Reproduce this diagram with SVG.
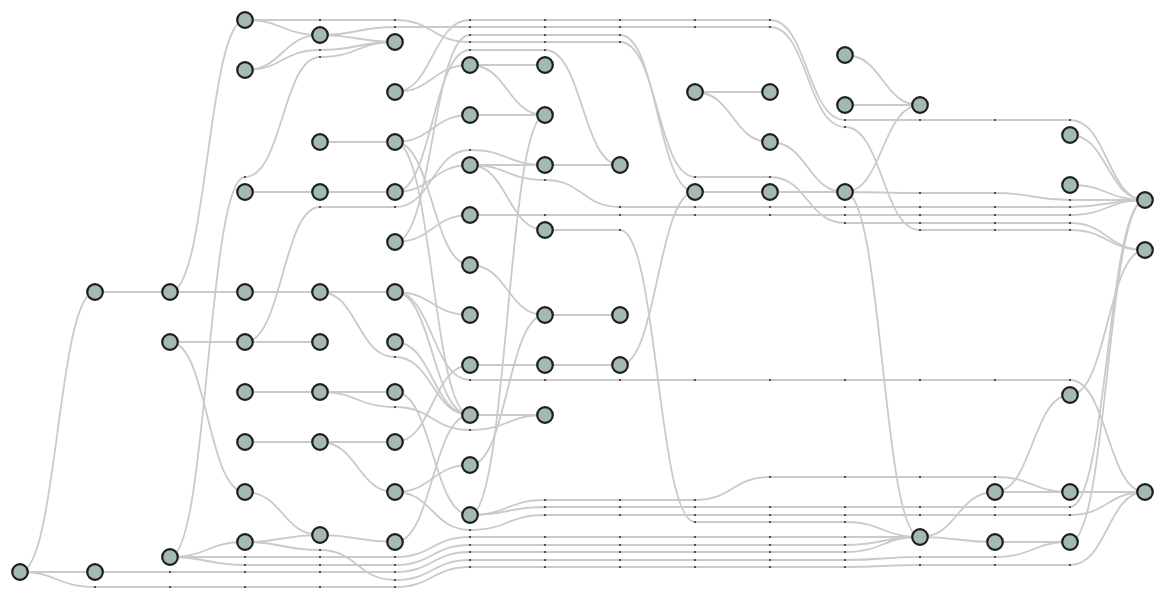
<svg xmlns="http://www.w3.org/2000/svg" width="1165" height="607" viewBox="0 0 1165 607">
<style>
.e{fill:none;stroke:#cacaca;stroke-width:1.8}
.n circle{fill:#a3b9b4;stroke:#1e1e1e;stroke-width:2.2}
.d circle{fill:#333}
</style>
<rect width="1165" height="607" fill="#fff"/>
<g id="connectors">
<path class="e" d="M20,572 C57.5,572 57.5,292 95,292"/>
<path class="e" d="M20,572 H95"/>
<path class="e" d="M20,572 C57.5,572 57.5,587 95,587 H395 C432.5,587 432.5,567 470,567 H845 C882.5,567 882.5,565 920,565 H1070 C1107.5,565 1107.5,492 1145,492"/>
<path class="e" d="M95,292 H170"/>
<path class="e" d="M95,572 H395 C432.5,572 432.5,552 470,552 H845 C882.5,552 882.5,537 920,537"/>
<path class="e" d="M170,292 C207.5,292 207.5,20 245,20"/>
<path class="e" d="M170,292 H245"/>
<path class="e" d="M170,342 H245"/>
<path class="e" d="M170,342 C207.5,342 207.5,492 245,492"/>
<path class="e" d="M170,557 C207.5,557 207.5,542 245,542"/>
<path class="e" d="M170,557 C207.5,557 207.5,177 245,177 C282.5,177 282.5,57 320,57 C357.5,57 357.5,42 395,42"/>
<path class="e" d="M170,557 H395 C432.5,557 432.5,537 470,537 H920"/>
<path class="e" d="M170,557 C207.5,557 207.5,565 245,565 H395 C432.5,565 432.5,545 470,545 H845 C882.5,545 882.5,537 920,537"/>
<path class="e" d="M245,20 C282.5,20 282.5,35 320,35"/>
<path class="e" d="M245,20 H395 C432.5,20 432.5,42 470,42 H620 C657.5,42 657.5,177 695,177 H770 C807.5,177 807.5,223 845,223 H1070 C1107.5,223 1107.5,250 1145,250"/>
<path class="e" d="M245,70 C282.5,70 282.5,35 320,35"/>
<path class="e" d="M245,70 C282.5,70 282.5,50 320,50 C357.5,50 357.5,42 395,42"/>
<path class="e" d="M245,192 H320"/>
<path class="e" d="M245,292 H320"/>
<path class="e" d="M245,342 H320"/>
<path class="e" d="M245,342 C282.5,342 282.5,207 320,207 H395 C432.5,207 432.5,150 470,150 C507.5,150 507.5,165 545,165"/>
<path class="e" d="M245,392 H320"/>
<path class="e" d="M245,442 H320"/>
<path class="e" d="M245,492 C282.5,492 282.5,535 320,535"/>
<path class="e" d="M245,542 C282.5,542 282.5,535 320,535"/>
<path class="e" d="M245,542 C282.5,542 282.5,550 320,550 C357.5,550 357.5,580 395,580 C432.5,580 432.5,560 470,560 H845 C882.5,560 882.5,557 920,557 H995 C1032.5,557 1032.5,542 1070,542"/>
<path class="e" d="M320,35 C357.5,35 357.5,42 395,42"/>
<path class="e" d="M320,35 C357.5,35 357.5,27 395,27 H770 C807.5,27 807.5,127 845,127 C882.5,127 882.5,230 920,230 H1070 C1107.5,230 1107.5,250 1145,250"/>
<path class="e" d="M320,142 H395"/>
<path class="e" d="M320,192 H395"/>
<path class="e" d="M320,292 H395"/>
<path class="e" d="M320,292 C357.5,292 357.5,357 395,357 C432.5,357 432.5,415 470,415"/>
<path class="e" d="M320,392 H395"/>
<path class="e" d="M320,392 C357.5,392 357.5,407 395,407 C432.5,407 432.5,430 470,430 C507.5,430 507.5,415 545,415"/>
<path class="e" d="M320,442 H395"/>
<path class="e" d="M320,442 C357.5,442 357.5,492 395,492"/>
<path class="e" d="M320,535 C357.5,535 357.5,542 395,542"/>
<path class="e" d="M395,92 C432.5,92 432.5,65 470,65"/>
<path class="e" d="M395,92 C432.5,92 432.5,20 470,20 H770 C807.5,20 807.5,120 845,120 H1070 C1107.5,120 1107.5,200 1145,200"/>
<path class="e" d="M395,142 C432.5,142 432.5,115 470,115"/>
<path class="e" d="M395,142 C432.5,142 432.5,265 470,265"/>
<path class="e" d="M395,142 C432.5,142 432.5,415 470,415"/>
<path class="e" d="M395,192 C432.5,192 432.5,165 470,165"/>
<path class="e" d="M395,192 C432.5,192 432.5,50 470,50 H545 C582.5,50 582.5,165 620,165"/>
<path class="e" d="M395,242 C432.5,242 432.5,215 470,215"/>
<path class="e" d="M395,242 C432.5,242 432.5,35 470,35 H620 C657.5,35 657.5,192 695,192"/>
<path class="e" d="M395,292 C432.5,292 432.5,315 470,315"/>
<path class="e" d="M395,292 C432.5,292 432.5,415 470,415"/>
<path class="e" d="M395,292 C432.5,292 432.5,380 470,380 H1070 C1107.5,380 1107.5,492 1145,492"/>
<path class="e" d="M395,342 C432.5,342 432.5,415 470,415"/>
<path class="e" d="M395,392 C432.5,392 432.5,515 470,515"/>
<path class="e" d="M395,442 C432.5,442 432.5,365 470,365"/>
<path class="e" d="M395,492 C432.5,492 432.5,465 470,465"/>
<path class="e" d="M395,492 C432.5,492 432.5,530 470,530 C507.5,530 507.5,515 545,515 H1070 C1107.5,515 1107.5,492 1145,492"/>
<path class="e" d="M395,542 C432.5,542 432.5,415 470,415"/>
<path class="e" d="M470,65 H545"/>
<path class="e" d="M470,65 C507.5,65 507.5,115 545,115"/>
<path class="e" d="M470,115 H545"/>
<path class="e" d="M470,165 H545"/>
<path class="e" d="M470,165 C507.5,165 507.5,230 545,230"/>
<path class="e" d="M470,165 C507.5,165 507.5,180 545,180 C582.5,180 582.5,207 620,207 H1070 C1107.5,207 1107.5,200 1145,200"/>
<path class="e" d="M470,215 H1070 C1107.5,215 1107.5,200 1145,200"/>
<path class="e" d="M470,265 C507.5,265 507.5,315 545,315"/>
<path class="e" d="M470,365 H545"/>
<path class="e" d="M470,415 H545"/>
<path class="e" d="M470,465 C507.5,465 507.5,315 545,315"/>
<path class="e" d="M470,515 C507.5,515 507.5,115 545,115"/>
<path class="e" d="M470,515 C507.5,515 507.5,500 545,500 H695 C732.5,500 732.5,477 770,477 H995 C1032.5,477 1032.5,492 1070,492"/>
<path class="e" d="M470,515 C507.5,515 507.5,507 545,507 H1070 C1107.5,507 1107.5,200 1145,200"/>
<path class="e" d="M545,165 H620"/>
<path class="e" d="M545,230 H620 C657.5,230 657.5,522 695,522 H845 C882.5,522 882.5,537 920,537"/>
<path class="e" d="M545,315 H620"/>
<path class="e" d="M545,365 H620"/>
<path class="e" d="M620,365 C657.5,365 657.5,192 695,192"/>
<path class="e" d="M695,92 H770"/>
<path class="e" d="M695,92 C732.5,92 732.5,142 770,142"/>
<path class="e" d="M695,192 H770"/>
<path class="e" d="M770,142 C807.5,142 807.5,192 845,192"/>
<path class="e" d="M770,192 H845"/>
<path class="e" d="M845,55 C882.5,55 882.5,105 920,105"/>
<path class="e" d="M845,105 H920"/>
<path class="e" d="M845,192 C882.5,192 882.5,105 920,105"/>
<path class="e" d="M845,192 C882.5,192 882.5,193 920,193 H995 C1032.5,193 1032.5,200 1070,200 H1145"/>
<path class="e" d="M845,192 C882.5,192 882.5,537 920,537"/>
<path class="e" d="M920,537 C957.5,537 957.5,492 995,492"/>
<path class="e" d="M920,537 C957.5,537 957.5,542 995,542"/>
<path class="e" d="M995,492 H1070"/>
<path class="e" d="M995,492 C1032.5,492 1032.5,395 1070,395"/>
<path class="e" d="M995,542 H1070"/>
<path class="e" d="M1070,135 C1107.5,135 1107.5,200 1145,200"/>
<path class="e" d="M1070,185 C1107.5,185 1107.5,200 1145,200"/>
<path class="e" d="M1070,395 C1107.5,395 1107.5,250 1145,250"/>
<path class="e" d="M1070,492 H1145"/>
<path class="e" d="M1070,542 C1107.5,542 1107.5,200 1145,200"/>
</g>
<g id="bends" class="d">
<circle cx="95" cy="587" r="1.1"/><circle cx="170" cy="587" r="1.1"/><circle cx="245" cy="587" r="1.1"/><circle cx="320" cy="587" r="1.1"/><circle cx="395" cy="587" r="1.1"/><circle cx="470" cy="567" r="1.1"/><circle cx="545" cy="567" r="1.1"/><circle cx="620" cy="567" r="1.1"/><circle cx="695" cy="567" r="1.1"/><circle cx="770" cy="567" r="1.1"/><circle cx="845" cy="567" r="1.1"/><circle cx="920" cy="565" r="1.1"/><circle cx="995" cy="565" r="1.1"/><circle cx="1070" cy="565" r="1.1"/>
<circle cx="170" cy="572" r="1.1"/><circle cx="245" cy="572" r="1.1"/><circle cx="320" cy="572" r="1.1"/><circle cx="395" cy="572" r="1.1"/><circle cx="470" cy="552" r="1.1"/><circle cx="545" cy="552" r="1.1"/><circle cx="620" cy="552" r="1.1"/><circle cx="695" cy="552" r="1.1"/><circle cx="770" cy="552" r="1.1"/><circle cx="845" cy="552" r="1.1"/>
<circle cx="245" cy="177" r="1.1"/><circle cx="320" cy="57" r="1.1"/>
<circle cx="245" cy="557" r="1.1"/><circle cx="320" cy="557" r="1.1"/><circle cx="395" cy="557" r="1.1"/><circle cx="470" cy="537" r="1.1"/><circle cx="545" cy="537" r="1.1"/><circle cx="620" cy="537" r="1.1"/><circle cx="695" cy="537" r="1.1"/><circle cx="770" cy="537" r="1.1"/><circle cx="845" cy="537" r="1.1"/>
<circle cx="245" cy="565" r="1.1"/><circle cx="320" cy="565" r="1.1"/><circle cx="395" cy="565" r="1.1"/><circle cx="470" cy="545" r="1.1"/><circle cx="545" cy="545" r="1.1"/><circle cx="620" cy="545" r="1.1"/><circle cx="695" cy="545" r="1.1"/><circle cx="770" cy="545" r="1.1"/><circle cx="845" cy="545" r="1.1"/>
<circle cx="320" cy="20" r="1.1"/><circle cx="395" cy="20" r="1.1"/><circle cx="470" cy="42" r="1.1"/><circle cx="545" cy="42" r="1.1"/><circle cx="620" cy="42" r="1.1"/><circle cx="695" cy="177" r="1.1"/><circle cx="770" cy="177" r="1.1"/><circle cx="845" cy="223" r="1.1"/><circle cx="920" cy="223" r="1.1"/><circle cx="995" cy="223" r="1.1"/><circle cx="1070" cy="223" r="1.1"/>
<circle cx="320" cy="50" r="1.1"/>
<circle cx="320" cy="207" r="1.1"/><circle cx="395" cy="207" r="1.1"/><circle cx="470" cy="150" r="1.1"/>
<circle cx="320" cy="550" r="1.1"/><circle cx="395" cy="580" r="1.1"/><circle cx="470" cy="560" r="1.1"/><circle cx="545" cy="560" r="1.1"/><circle cx="620" cy="560" r="1.1"/><circle cx="695" cy="560" r="1.1"/><circle cx="770" cy="560" r="1.1"/><circle cx="845" cy="560" r="1.1"/><circle cx="920" cy="557" r="1.1"/><circle cx="995" cy="557" r="1.1"/>
<circle cx="395" cy="27" r="1.1"/><circle cx="470" cy="27" r="1.1"/><circle cx="545" cy="27" r="1.1"/><circle cx="620" cy="27" r="1.1"/><circle cx="695" cy="27" r="1.1"/><circle cx="770" cy="27" r="1.1"/><circle cx="845" cy="127" r="1.1"/><circle cx="920" cy="230" r="1.1"/><circle cx="995" cy="230" r="1.1"/><circle cx="1070" cy="230" r="1.1"/>
<circle cx="395" cy="357" r="1.1"/><circle cx="395" cy="407" r="1.1"/><circle cx="470" cy="430" r="1.1"/>
<circle cx="470" cy="20" r="1.1"/><circle cx="545" cy="20" r="1.1"/><circle cx="620" cy="20" r="1.1"/><circle cx="695" cy="20" r="1.1"/><circle cx="770" cy="20" r="1.1"/><circle cx="845" cy="120" r="1.1"/><circle cx="920" cy="120" r="1.1"/><circle cx="995" cy="120" r="1.1"/><circle cx="1070" cy="120" r="1.1"/>
<circle cx="470" cy="50" r="1.1"/><circle cx="545" cy="50" r="1.1"/>
<circle cx="470" cy="35" r="1.1"/><circle cx="545" cy="35" r="1.1"/><circle cx="620" cy="35" r="1.1"/>
<circle cx="470" cy="380" r="1.1"/><circle cx="545" cy="380" r="1.1"/><circle cx="620" cy="380" r="1.1"/><circle cx="695" cy="380" r="1.1"/><circle cx="770" cy="380" r="1.1"/><circle cx="845" cy="380" r="1.1"/><circle cx="920" cy="380" r="1.1"/><circle cx="995" cy="380" r="1.1"/><circle cx="1070" cy="380" r="1.1"/>
<circle cx="470" cy="530" r="1.1"/><circle cx="545" cy="515" r="1.1"/><circle cx="620" cy="515" r="1.1"/><circle cx="695" cy="515" r="1.1"/><circle cx="770" cy="515" r="1.1"/><circle cx="845" cy="515" r="1.1"/><circle cx="920" cy="515" r="1.1"/><circle cx="995" cy="515" r="1.1"/><circle cx="1070" cy="515" r="1.1"/>
<circle cx="545" cy="180" r="1.1"/><circle cx="620" cy="207" r="1.1"/><circle cx="695" cy="207" r="1.1"/><circle cx="770" cy="207" r="1.1"/><circle cx="845" cy="207" r="1.1"/><circle cx="920" cy="207" r="1.1"/><circle cx="995" cy="207" r="1.1"/><circle cx="1070" cy="207" r="1.1"/>
<circle cx="545" cy="215" r="1.1"/><circle cx="620" cy="215" r="1.1"/><circle cx="695" cy="215" r="1.1"/><circle cx="770" cy="215" r="1.1"/><circle cx="845" cy="215" r="1.1"/><circle cx="920" cy="215" r="1.1"/><circle cx="995" cy="215" r="1.1"/><circle cx="1070" cy="215" r="1.1"/>
<circle cx="545" cy="500" r="1.1"/><circle cx="620" cy="500" r="1.1"/><circle cx="695" cy="500" r="1.1"/><circle cx="770" cy="477" r="1.1"/><circle cx="845" cy="477" r="1.1"/><circle cx="920" cy="477" r="1.1"/><circle cx="995" cy="477" r="1.1"/>
<circle cx="545" cy="507" r="1.1"/><circle cx="620" cy="507" r="1.1"/><circle cx="695" cy="507" r="1.1"/><circle cx="770" cy="507" r="1.1"/><circle cx="845" cy="507" r="1.1"/><circle cx="920" cy="507" r="1.1"/><circle cx="995" cy="507" r="1.1"/><circle cx="1070" cy="507" r="1.1"/>
<circle cx="620" cy="230" r="1.1"/><circle cx="695" cy="522" r="1.1"/><circle cx="770" cy="522" r="1.1"/><circle cx="845" cy="522" r="1.1"/>
<circle cx="920" cy="193" r="1.1"/><circle cx="995" cy="193" r="1.1"/><circle cx="1070" cy="200" r="1.1"/>
</g>
<g class="n">
<g id="A0"><circle cx="20" cy="572" r="7.8"/></g>
<g id="B0"><circle cx="95" cy="292" r="7.8"/></g>
<g id="B1"><circle cx="95" cy="572" r="7.8"/></g>
<g id="C0"><circle cx="170" cy="292" r="7.8"/></g>
<g id="C1"><circle cx="170" cy="342" r="7.8"/></g>
<g id="C2"><circle cx="170" cy="557" r="7.8"/></g>
<g id="D0"><circle cx="245" cy="20" r="7.8"/></g>
<g id="D1"><circle cx="245" cy="70" r="7.8"/></g>
<g id="D2"><circle cx="245" cy="192" r="7.8"/></g>
<g id="D3"><circle cx="245" cy="292" r="7.8"/></g>
<g id="D4"><circle cx="245" cy="342" r="7.8"/></g>
<g id="D5"><circle cx="245" cy="392" r="7.8"/></g>
<g id="D6"><circle cx="245" cy="442" r="7.8"/></g>
<g id="D7"><circle cx="245" cy="492" r="7.8"/></g>
<g id="D8"><circle cx="245" cy="542" r="7.8"/></g>
<g id="E0"><circle cx="320" cy="35" r="7.8"/></g>
<g id="E1"><circle cx="320" cy="142" r="7.8"/></g>
<g id="E2"><circle cx="320" cy="192" r="7.8"/></g>
<g id="E3"><circle cx="320" cy="292" r="7.8"/></g>
<g id="E4"><circle cx="320" cy="342" r="7.8"/></g>
<g id="E5"><circle cx="320" cy="392" r="7.8"/></g>
<g id="E6"><circle cx="320" cy="442" r="7.8"/></g>
<g id="E7"><circle cx="320" cy="535" r="7.8"/></g>
<g id="F0"><circle cx="395" cy="42" r="7.8"/></g>
<g id="F1"><circle cx="395" cy="92" r="7.8"/></g>
<g id="F2"><circle cx="395" cy="142" r="7.8"/></g>
<g id="F3"><circle cx="395" cy="192" r="7.8"/></g>
<g id="F4"><circle cx="395" cy="242" r="7.8"/></g>
<g id="F5"><circle cx="395" cy="292" r="7.8"/></g>
<g id="F6"><circle cx="395" cy="342" r="7.8"/></g>
<g id="F7"><circle cx="395" cy="392" r="7.8"/></g>
<g id="F8"><circle cx="395" cy="442" r="7.8"/></g>
<g id="F9"><circle cx="395" cy="492" r="7.8"/></g>
<g id="F10"><circle cx="395" cy="542" r="7.8"/></g>
<g id="G0"><circle cx="470" cy="65" r="7.8"/></g>
<g id="G1"><circle cx="470" cy="115" r="7.8"/></g>
<g id="G2"><circle cx="470" cy="165" r="7.8"/></g>
<g id="G3"><circle cx="470" cy="215" r="7.8"/></g>
<g id="G4"><circle cx="470" cy="265" r="7.8"/></g>
<g id="G5"><circle cx="470" cy="315" r="7.8"/></g>
<g id="G6"><circle cx="470" cy="365" r="7.8"/></g>
<g id="G7"><circle cx="470" cy="415" r="7.8"/></g>
<g id="G8"><circle cx="470" cy="465" r="7.8"/></g>
<g id="G9"><circle cx="470" cy="515" r="7.8"/></g>
<g id="H0"><circle cx="545" cy="65" r="7.8"/></g>
<g id="H1"><circle cx="545" cy="115" r="7.8"/></g>
<g id="H2"><circle cx="545" cy="165" r="7.8"/></g>
<g id="H3"><circle cx="545" cy="230" r="7.8"/></g>
<g id="H4"><circle cx="545" cy="315" r="7.8"/></g>
<g id="H5"><circle cx="545" cy="365" r="7.8"/></g>
<g id="H6"><circle cx="545" cy="415" r="7.8"/></g>
<g id="I0"><circle cx="620" cy="165" r="7.8"/></g>
<g id="I1"><circle cx="620" cy="315" r="7.8"/></g>
<g id="I2"><circle cx="620" cy="365" r="7.8"/></g>
<g id="J0"><circle cx="695" cy="92" r="7.8"/></g>
<g id="J1"><circle cx="695" cy="192" r="7.8"/></g>
<g id="K0"><circle cx="770" cy="92" r="7.8"/></g>
<g id="K1"><circle cx="770" cy="142" r="7.8"/></g>
<g id="K2"><circle cx="770" cy="192" r="7.8"/></g>
<g id="L0"><circle cx="845" cy="55" r="7.8"/></g>
<g id="L1"><circle cx="845" cy="105" r="7.8"/></g>
<g id="L2"><circle cx="845" cy="192" r="7.8"/></g>
<g id="M0"><circle cx="920" cy="105" r="7.8"/></g>
<g id="M1"><circle cx="920" cy="537" r="7.8"/></g>
<g id="N0"><circle cx="995" cy="492" r="7.8"/></g>
<g id="N1"><circle cx="995" cy="542" r="7.8"/></g>
<g id="O0"><circle cx="1070" cy="135" r="7.8"/></g>
<g id="O1"><circle cx="1070" cy="185" r="7.8"/></g>
<g id="O2"><circle cx="1070" cy="395" r="7.8"/></g>
<g id="O3"><circle cx="1070" cy="492" r="7.8"/></g>
<g id="O4"><circle cx="1070" cy="542" r="7.8"/></g>
<g id="P0"><circle cx="1145" cy="200" r="7.8"/></g>
<g id="P1"><circle cx="1145" cy="250" r="7.8"/></g>
<g id="P2"><circle cx="1145" cy="492" r="7.8"/></g>
</g>
</svg>
